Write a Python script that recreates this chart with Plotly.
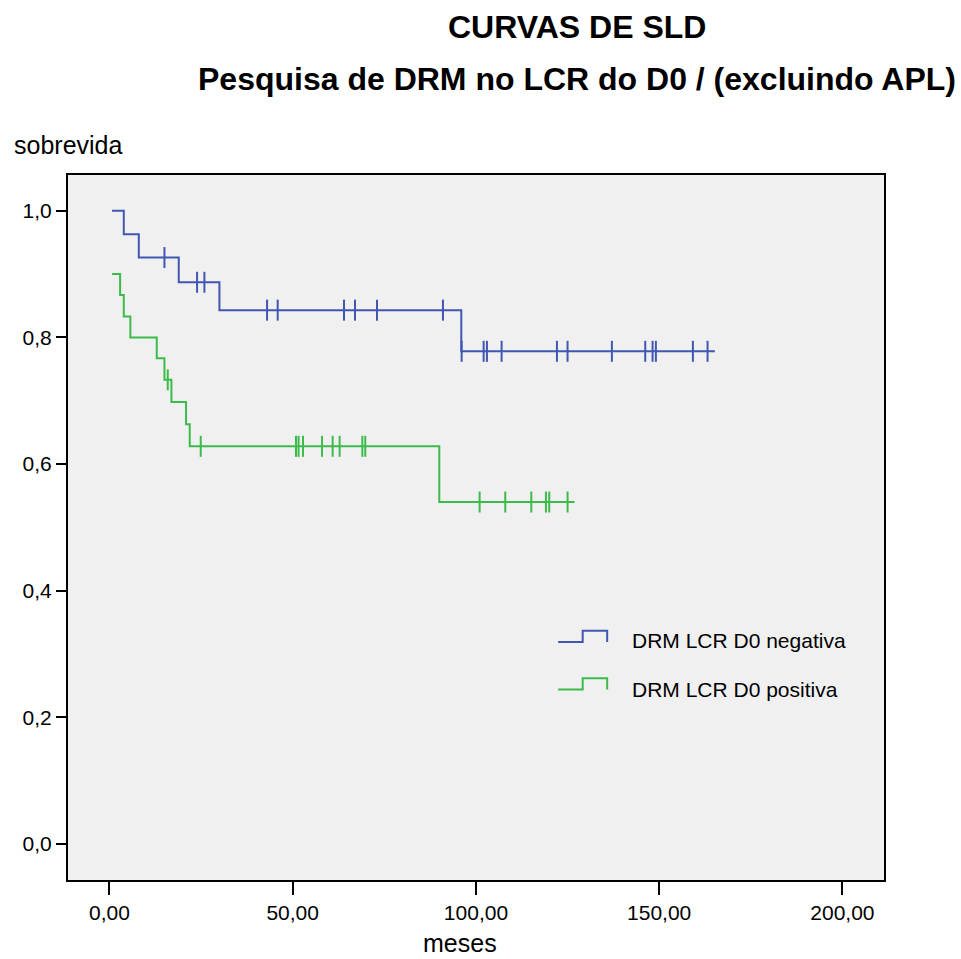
import plotly.graph_objects as go

# ---------------- data ----------------
series_names = ["DRM LCR D0 negativa", "DRM LCR D0 positiva"]

neg_step_x = [0.7, 3.9, 8.0, 18.9, 30.0, 96.0, 165.2]
neg_step_y = [1.000, 0.963, 0.926, 0.887, 0.843, 0.778, 0.778]
neg_censor_x = [15.0, 23.9, 25.9, 43.0, 45.9, 64.0, 67.0, 73.0, 91.0, 96.1,
                102.1, 103.0, 107.0, 122.1, 125.0, 137.1, 146.2, 148.2, 149.1,
                159.2, 163.2]

pos_step_x = [0.7, 2.9, 3.9, 5.7, 12.9, 15.0, 16.9, 20.9, 21.9, 90.0, 126.9]
pos_step_y = [0.900, 0.867, 0.833, 0.800, 0.767, 0.733, 0.698, 0.663, 0.628,
              0.540, 0.540]
pos_censor_x = [15.9, 24.9, 50.9, 51.6, 52.8, 58.0, 60.9, 62.8, 69.0, 69.8,
                101.0, 108.0, 115.1, 119.1, 120.0, 125.0]

x_tickvals = [0, 50, 100, 150, 200]
x_ticktext = ["0,00", "50,00", "100,00", "150,00", "200,00"]
y_tickvals = [0.0, 0.2, 0.4, 0.6, 0.8, 1.0]
y_ticktext = ["0,0", "0,2", "0,4", "0,6", "0,8", "1,0"]

title_lines = ["CURVAS DE SLD", "Pesquisa de DRM no LCR do D0 / (excluindo APL)"]
x_title = "meses"
y_title = "sobrevida"

colors = ["#3F57B0", "#3CBB4B"]
FONT = "Liberation Sans, Arial, sans-serif"


def level_at(t, xs, ys):
    lvl = ys[0]
    for xi, yi in zip(xs, ys):
        if t >= xi:
            lvl = yi
    return lvl


fig = go.Figure()
for name, sx, sy, cx, col in [
    (series_names[0], neg_step_x, neg_step_y, neg_censor_x, colors[0]),
    (series_names[1], pos_step_x, pos_step_y, pos_censor_x, colors[1]),
]:
    fig.add_trace(go.Scatter(x=sx, y=sy, mode="lines", line_shape="hv",
                             line=dict(color=col, width=2), name=name,
                             showlegend=False, hoverinfo="skip"))
    fig.add_trace(go.Scatter(x=cx, y=[level_at(t, sx, sy) for t in cx],
                             mode="markers",
                             marker=dict(symbol="line-ns-open", size=15, color=col,
                                         line=dict(color=col, width=2)),
                             showlegend=False, hoverinfo="skip"))

# plot area in pixels
L, R, T, B = 67.5, 884.0, 175.0, 880.0
W, H = 961, 959


def px(xp):
    return (xp - L) / (R - L)


def py(yp):
    return (B - yp) / (B - T)


annotations = [
    dict(text="<b>%s</b>" % title_lines[0], x=px(577), y=py(27), xref="paper", yref="paper",
         xanchor="center", yanchor="middle", showarrow=False,
         font=dict(family=FONT, size=32, color="black")),
    dict(text="<b>%s</b>" % title_lines[1], x=px(577), y=py(79), xref="paper", yref="paper",
         xanchor="center", yanchor="middle", showarrow=False,
         font=dict(family=FONT, size=32, color="black")),
    dict(text=y_title, x=px(11), y=py(145), xref="paper", yref="paper",
         xanchor="left", yanchor="middle", showarrow=False,
         font=dict(family=FONT, size=25, color="black")),
    dict(text=x_title, x=px(460), y=py(943), xref="paper", yref="paper",
         xanchor="center", yanchor="middle", showarrow=False,
         font=dict(family=FONT, size=25, color="black")),
]

shapes = []
legend_rows = [(series_names[0], colors[0], 642, 630.7, 640),
               (series_names[1], colors[1], 689.5, 678.3, 689)]
for name, col, ylow, yhigh, ytext in legend_rows:
    path = "M %f %f L %f %f L %f %f L %f %f L %f %f" % (
        px(558), py(ylow), px(582.5), py(ylow), px(582.5), py(yhigh),
        px(607), py(yhigh), px(607), py(ylow))
    shapes.append(dict(type="path", path=path, xref="paper", yref="paper",
                       line=dict(color=col, width=2)))
    annotations.append(dict(text=name, x=px(630), y=py(ytext), xref="paper", yref="paper",
                            xanchor="left", yanchor="middle", showarrow=False,
                            font=dict(family=FONT, size=21, color="black")))

x0 = -11.32
x1 = 211.35
y0 = -0.0568
y1 = 1.0564

fig.update_layout(
    width=W, height=H,
    margin=dict(l=L, r=W - R, t=T, b=H - B, pad=0),
    paper_bgcolor="white", plot_bgcolor="#F0F0F0",
    font=dict(family=FONT, size=21, color="black"),
    annotations=annotations, shapes=shapes, showlegend=False,
    xaxis=dict(range=[x0, x1], tickvals=x_tickvals, ticktext=x_ticktext,
               showgrid=False, zeroline=False, showline=True, mirror=True,
               linecolor="black", linewidth=2, ticks="outside", ticklen=13,
               tickwidth=2, tickcolor="black", tickfont=dict(size=21)),
    yaxis=dict(range=[y0, y1], tickvals=y_tickvals, ticktext=y_ticktext,
               showgrid=False, zeroline=False, showline=True, mirror=True,
               linecolor="black", linewidth=2, ticks="outside", ticklen=10,
               tickwidth=2, tickcolor="black", tickfont=dict(size=21)),
)

fig.write_html("out.html")
